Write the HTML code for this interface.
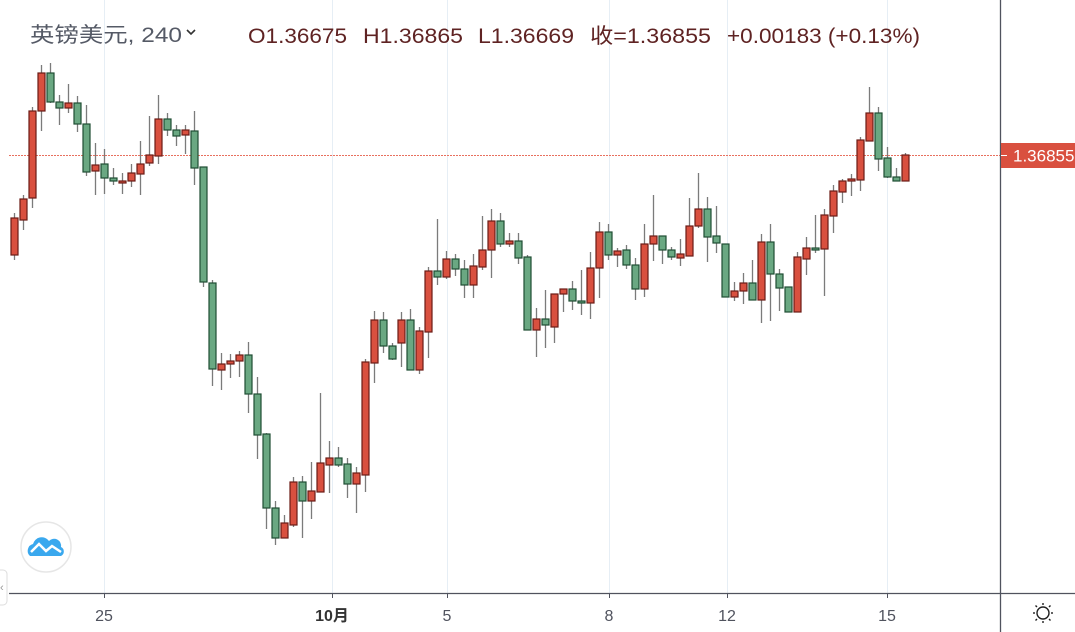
<!DOCTYPE html>
<html><head><meta charset="utf-8"><style>
html,body{margin:0;padding:0;background:#fff;width:1075px;height:632px;overflow:hidden}
svg{display:block}
text{font-family:"Liberation Sans","Noto Sans CJK SC",sans-serif}
</style></head><body>
<svg id="s" width="1075" height="632" viewBox="0 0 1075 632" xmlns="http://www.w3.org/2000/svg">
<g stroke="#e6eef5" stroke-width="1">
<line x1="104.5" y1="0" x2="104.5" y2="593"/><line x1="332.5" y1="0" x2="332.5" y2="593"/>
<line x1="447.5" y1="0" x2="447.5" y2="593"/><line x1="609.5" y1="0" x2="609.5" y2="593"/>
<line x1="727.5" y1="0" x2="727.5" y2="593"/><line x1="887.5" y1="0" x2="887.5" y2="593"/>
</g>
<line x1="9" y1="155.5" x2="1000" y2="155.5" stroke="#e8705f" stroke-width="1" stroke-dasharray="2,1"/>
<g id="c"></g>
<line x1="9" y1="593.5" x2="1075" y2="593.5" stroke="#50535e" stroke-width="1.3"/>
<line x1="1000.5" y1="0" x2="1000.5" y2="632" stroke="#50535e" stroke-width="1.3"/>
<g stroke="#50535e"><line x1="104.5" y1="593" x2="104.5" y2="598"/><line x1="332.5" y1="593" x2="332.5" y2="598"/><line x1="447.5" y1="593" x2="447.5" y2="598"/><line x1="609.5" y1="593" x2="609.5" y2="598"/><line x1="727.5" y1="593" x2="727.5" y2="598"/><line x1="887.5" y1="593" x2="887.5" y2="598"/></g>
<g font-size="16" fill="#50535e" text-anchor="middle">
<text x="104" y="621">25</text><text x="332" y="621" font-weight="bold" fill="#333">10月</text>
<text x="447" y="621">5</text><text x="609" y="621">8</text><text x="727" y="621">12</text><text x="887" y="621">15</text>
</g>
<rect x="1001" y="143" width="74" height="25" fill="#d9503f"/>
<line x1="1001" y1="155.5" x2="1007" y2="155.5" stroke="#fff"/>
<text x="1013" y="161.5" font-size="17" fill="#fff">1.36855</text>
<g transform="translate(1043,613)" stroke="#222" stroke-width="1.4" fill="none">
<circle r="6"/><line x1="0" y1="-8" x2="0" y2="-10"/><line x1="0" y1="8" x2="0" y2="10"/><line x1="-8" y1="0" x2="-10" y2="0"/><line x1="8" y1="0" x2="10" y2="0"/>
<line x1="-6" y1="-6" x2="-7.5" y2="-7.5"/><line x1="6" y1="6" x2="7.5" y2="7.5"/><line x1="6" y1="-6" x2="7.5" y2="-7.5"/><line x1="-6" y1="6" x2="-7.5" y2="7.5"/>
</g>
<circle cx="46" cy="547" r="25" fill="#fff" stroke="#e6e6e6" stroke-width="1.5"/>
<path d="M30 556 a7 7 0 0 1 3 -12 a9 9 0 0 1 16 -3 a7 7 0 0 1 12 6 a5 5 0 0 1 0 9 z" fill="#3aa8ee"/>
<path d="M31 552 l8 -8 l7 7 l6 -5 l9 6" stroke="#fff" stroke-width="2.5" fill="none"/>
<rect x="-6" y="570" width="13" height="35" rx="4" fill="#fff" stroke="#ddd"/>
<text x="0" y="591" font-size="11" fill="#999">‹</text>
<text x="30" y="42" font-size="21" fill="#555a66" textLength="152" lengthAdjust="spacingAndGlyphs">英镑美元, 240</text>
<path d="M187 30 l4 4 l4 -4" stroke="#333" stroke-width="1.6" fill="none"/>
<g font-size="21" fill="#5f2323">
<text x="248" y="43" textLength="99" lengthAdjust="spacingAndGlyphs">O1.36675</text>
<text x="363" y="43" textLength="100" lengthAdjust="spacingAndGlyphs">H1.36865</text>
<text x="478" y="43" textLength="96" lengthAdjust="spacingAndGlyphs">L1.36669</text>
<text x="590" y="43" textLength="121" lengthAdjust="spacingAndGlyphs">收=1.36855</text>
<text x="727" y="43" textLength="193" lengthAdjust="spacingAndGlyphs">+0.00183 (+0.13%)</text>
</g>
</svg>
<script>
var d=[[255,218,213,260],[220,199,195,230],[198,111,107,208],[111,73,65,131],[73,102,63,103],[102,108,95,125],[108,103,84,113],[103,124,96,132],[124,172,105,176],[171,165,143,195],
[164,178,149,194],[178,181,168,185],[183,181,173,194],[181,173,164,187],[174,164,141,195],[163,155,116,166],[156,119,95,164],[119,130,113,136],[130,136,125,146],[135,130,125,154],
[131,168,111,185],[167,282,167,287],[283,369,280,386],[370,364,353,390],[364,361,354,378],[361,355,351,377],[355,394,342,413],[394,435,377,459],[434,508,433,529],[508,538,501,545],
[538,523,515,538],[525,482,477,527],[482,501,476,538],[501,491,462,519],[492,463,393,492],[465,458,441,493],[458,465,447,467],[464,484,458,498],[484,473,467,513],[475,362,359,492],
[363,320,311,383],[320,346,312,353],[346,359,343,360],[343,320,312,367],[320,370,309,370],[370,331,327,374],[332,271,267,358],[271,277,219,285],[277,259,251,279],[259,269,254,276],
[269,285,260,298],[285,266,254,298],[267,250,216,270],[250,221,209,278],[221,244,213,247],[244,241,233,247],[241,258,233,264],[257,330,255,330],[330,319,308,357],[319,325,290,348],
[327,294,294,343],[294,289,289,312],[289,301,281,310],[301,303,270,315],[303,268,252,319],[268,232,222,298],[232,255,224,260],[255,251,248,267],[250,265,245,269],[265,289,258,300],
[289,244,224,297],[244,236,195,261],[236,250,236,264],[250,257,247,260],[258,254,239,266],[256,226,198,256],[226,209,173,228],[209,237,197,262],[236,243,206,253],[244,297,244,297],
[297,291,282,301],[291,283,273,304],[283,300,260,300],[300,242,234,323],[242,274,224,321],[274,288,269,311],[287,312,287,312],[312,257,252,312],[259,248,237,275],[248,249,215,253],
[249,215,209,296],[216,191,185,233],[192,181,179,203],[181,179,174,196],[180,140,137,191],[141,113,87,141],[113,159,107,171],[158,177,147,178],[177,181,168,181],[181,155,153,181]];
var h='';
d.forEach(function(c,i){var x=14+9*i,o=c[0],cl=c[1],up=cl<=o;var t=Math.min(o,cl),b=Math.max(o,cl);if(b-t<2)b=t+2;
h+='<line x1="'+(x+0.5)+'" y1="'+c[2]+'" x2="'+(x+0.5)+'" y2="'+c[3]+'" stroke="#7b7b7b" stroke-width="1.3"/>';
h+='<rect x="'+(x-3)+'" y="'+t+'" width="7" height="'+(b-t)+'" fill="'+(up?'#d9503f':'#6aa882')+'" stroke="'+(up?'#6b1c16':'#1f4d33')+'" stroke-width="1.2"/>';});
document.getElementById('c').innerHTML=h;
</script>
</body></html>
